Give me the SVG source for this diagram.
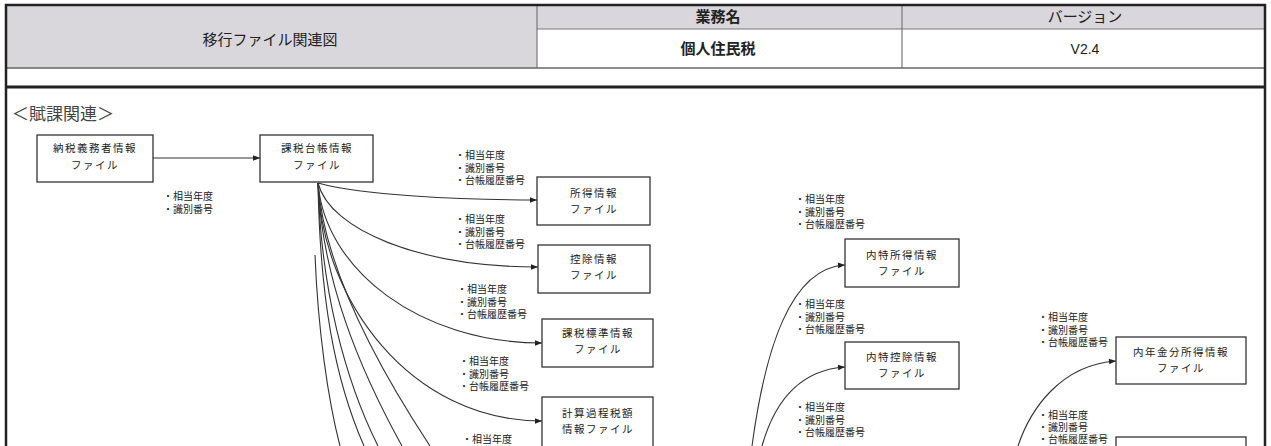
<svg xmlns="http://www.w3.org/2000/svg" width="1271" height="446" viewBox="0 0 1271 446">
<style>
.jp{font-family:"Noto Sans CJK JP","Noto Sans CJK SC",sans-serif}
.lbf{font-family:"Liberation Sans","Noto Sans CJK JP","Noto Sans CJK SC",sans-serif}
.box{fill:#fff;stroke:#333;stroke-width:1.3}
.bt{font-size:10.5px;letter-spacing:1.5px;text-anchor:middle;fill:#222}
.lb{font-size:10px;fill:#222}
.cn{fill:none;stroke:#333;stroke-width:1.1}
.hd{font-size:15px;fill:#222;text-anchor:middle}
</style>
<defs>
<marker id="ah" viewBox="0 0 10 10" refX="10" refY="5" markerWidth="8" markerHeight="7" orient="auto" markerUnits="userSpaceOnUse">
<path d="M0,1 L10,5 L0,9 z" fill="#222"/>
</marker>
</defs>
<rect width="1271" height="446" fill="#fff"/>
<g id="header">
<rect x="6" y="5" width="1259" height="63" fill="#d9d7dc"/>
<rect x="537" y="29" width="728" height="39" fill="#fff"/>
<line x1="537" y1="5" x2="537" y2="68" stroke="#777" stroke-width="1.2"/>
<line x1="902" y1="5" x2="902" y2="68" stroke="#777" stroke-width="1.2"/>
<line x1="537" y1="29" x2="1265" y2="29" stroke="#777" stroke-width="1.2"/>
<line x1="6" y1="68" x2="1265" y2="68" stroke="#666" stroke-width="1.5"/>
<line x1="6" y1="87" x2="1265" y2="87" stroke="#222" stroke-width="3"/>
<rect x="6" y="5" width="1259" height="460" fill="none" stroke="#222" stroke-width="2.5"/>
<text class="jp hd" x="270" y="45">移行ファイル関連図</text>
<text class="jp hd" x="718" y="22" font-weight="bold">業務名</text>
<text class="jp hd" x="1085" y="22">バージョン</text>
<text class="jp hd" x="718" y="54" font-weight="bold">個人住民税</text>
<text x="1085" y="54" font-family="'Liberation Sans',Arial,sans-serif" font-size="14" fill="#222" text-anchor="middle">V2.4</text>
<text class="jp" x="12" y="120" font-size="17" fill="#444">＜賦課関連＞</text>
</g>
<g id="connectors">
<path class="cn" d="M153,158 L260,158" marker-end="url(#ah)"/>
<path class="cn" d="M318,183 C360,195 460,200 537,200" marker-end="url(#ah)"/>
<path class="cn" d="M318,183 C330,230 420,267 538,267" marker-end="url(#ah)"/>
<path class="cn" d="M318,183 C325,270 420,343 542,343" marker-end="url(#ah)"/>
<path class="cn" d="M318,183 C322,300 410,421 542,421" marker-end="url(#ah)"/>
<path class="cn" d="M318,183 C320,300 335,380 364,446"/>
<path class="cn" d="M318,183 C321,290 345,380 378,446"/>
<path class="cn" d="M318,183 C322,280 360,370 402,446"/>
<path class="cn" d="M318,183 C324,270 380,370 430,446"/>
<path class="cn" d="M315,255 C318,330 328,400 340,446"/>
<path class="cn" d="M752,446 C765,350 790,268 845,265" marker-end="url(#ah)"/>
<path class="cn" d="M762,446 C775,400 800,370 845,367" marker-end="url(#ah)"/>
<path class="cn" d="M1018,446 C1030,410 1060,365 1116,361" marker-end="url(#ah)"/>
</g>
<g id="labels" class="lbf lb">
<text x="163" y="200">・相当年度<tspan x="163" dy="12.5">・識別番号</tspan></text>
<text x="455" y="159">・相当年度<tspan x="455" dy="12.5">・識別番号</tspan><tspan x="455" dy="12.5">・台帳履歴番号</tspan></text>
<text x="455" y="223">・相当年度<tspan x="455" dy="12.5">・識別番号</tspan><tspan x="455" dy="12.5">・台帳履歴番号</tspan></text>
<text x="457" y="293">・相当年度<tspan x="457" dy="12.5">・識別番号</tspan><tspan x="457" dy="12.5">・台帳履歴番号</tspan></text>
<text x="459" y="365">・相当年度<tspan x="459" dy="12.5">・識別番号</tspan><tspan x="459" dy="12.5">・台帳履歴番号</tspan></text>
<text x="462" y="443">・相当年度</text>
<text x="795" y="203">・相当年度<tspan x="795" dy="12.5">・識別番号</tspan><tspan x="795" dy="12.5">・台帳履歴番号</tspan></text>
<text x="795" y="308">・相当年度<tspan x="795" dy="12.5">・識別番号</tspan><tspan x="795" dy="12.5">・台帳履歴番号</tspan></text>
<text x="795" y="411">・相当年度<tspan x="795" dy="12.5">・識別番号</tspan><tspan x="795" dy="12.5">・台帳履歴番号</tspan></text>
<text x="1038" y="321">・相当年度<tspan x="1038" dy="12.5">・識別番号</tspan><tspan x="1038" dy="12.5">・台帳履歴番号</tspan></text>
<text x="1038" y="419">・相当年度<tspan x="1038" dy="12">・識別番号</tspan><tspan x="1038" dy="12">・台帳履歴番号</tspan></text>
</g>
<g id="n1"><rect class="box" x="37" y="135" width="116" height="47"/><text class="jp bt" x="95" y="152">納税義務者情報</text><text class="jp bt" x="95" y="169">ファイル</text></g>
<g id="n2"><rect class="box" x="260" y="135" width="113" height="47"/><text class="jp bt" x="317" y="152">課税台帳情報</text><text class="jp bt" x="317" y="169">ファイル</text></g>
<g id="n3"><rect class="box" x="537" y="177" width="113" height="48"/><text class="jp bt" x="594" y="197">所得情報</text><text class="jp bt" x="594" y="213">ファイル</text></g>
<g id="n4"><rect class="box" x="538" y="245" width="112" height="48"/><text class="jp bt" x="594" y="263">控除情報</text><text class="jp bt" x="594" y="279">ファイル</text></g>
<g id="n5"><rect class="box" x="542" y="319" width="111" height="48"/><text class="jp bt" x="598" y="337">課税標準情報</text><text class="jp bt" x="598" y="353">ファイル</text></g>
<g id="n6"><rect class="box" x="542" y="397" width="111" height="60"/><text class="jp bt" x="598" y="417">計算過程税額</text><text class="jp bt" x="598" y="433">情報ファイル</text></g>
<g id="n7"><rect class="box" x="845" y="239" width="114" height="48"/><text class="jp bt" x="902" y="259">内特所得情報</text><text class="jp bt" x="902" y="275">ファイル</text></g>
<g id="n8"><rect class="box" x="845" y="342" width="114" height="47"/><text class="jp bt" x="902" y="361">内特控除情報</text><text class="jp bt" x="902" y="377">ファイル</text></g>
<g id="n9"><rect class="box" x="1116" y="337" width="130" height="47"/><text class="jp bt" x="1181" y="356">内年金分所得情報</text><text class="jp bt" x="1181" y="372">ファイル</text></g>
<g id="n10"><rect class="box" x="1116" y="437" width="130" height="30"/></g>
</svg>
